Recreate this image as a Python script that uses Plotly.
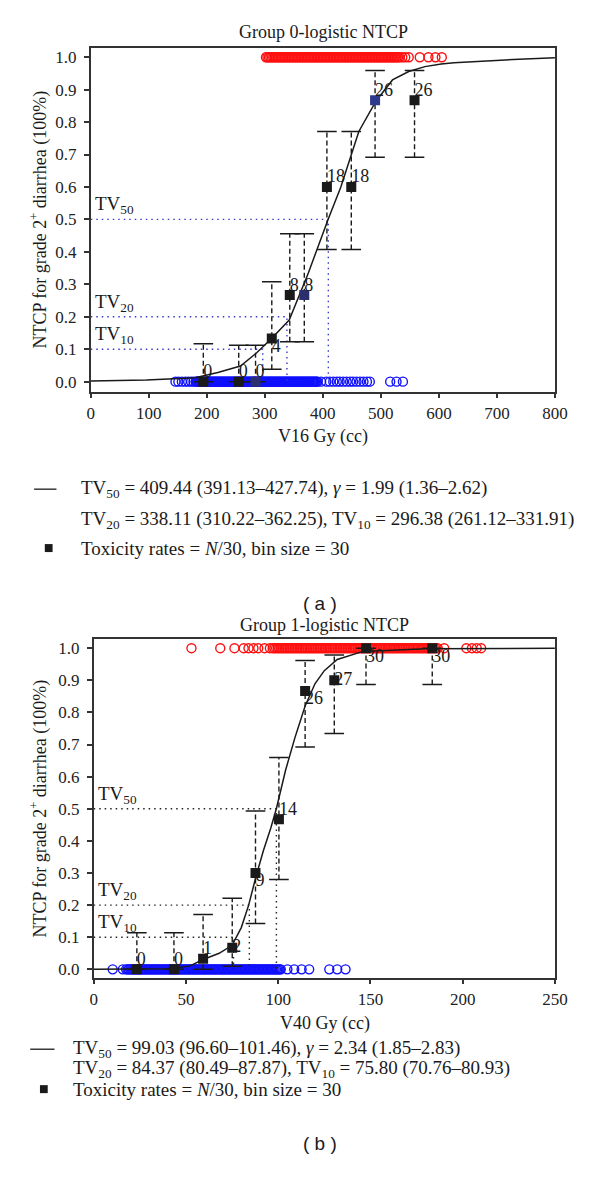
import plotly.graph_objects as go

# ---------------- data: panel (a) Group 0, V16Gy ----------------
bin_x0 = [194, 255, 284, 312, 343, 368, 407, 449, 490, 558]
bin_y0 = [0, 0, 0, 0.133, 0.267, 0.267, 0.600, 0.600, 0.867, 0.867]
bin_lo0 = [0, 0, 0, 0.038, 0.123, 0.123, 0.407, 0.407, 0.692, 0.692]
bin_hi0 = [0.117, 0.112, 0.112, 0.308, 0.456, 0.456, 0.771, 0.771, 0.959, 0.959]
bin_n0 = ["0", "0", "0", "4", "8", "8", "18", "18", "26", "26"]

curve_x0 = [0, 96, 180, 219, 258, 286, 312, 342, 375, 398, 409, 431, 462, 492, 520, 548, 576, 604, 626, 738, 800]
curve_y0 = [0.002, 0.005, 0.012, 0.028, 0.048, 0.089, 0.134, 0.19, 0.335, 0.45, 0.50, 0.60, 0.771, 0.866,
            0.930, 0.956, 0.971, 0.979, 0.983, 0.994, 0.998]

tv_vals0 = [409.44, 338.11, 296.38]
tv_levels = [0.5, 0.2, 0.1]
tv_names = ["50", "20", "10"]

events_x0 = [302, 304.5, 307, 309.5, 312, 314.5, 317, 319.5, 322, 324.5, 327, 329.5, 332, 334.5, 337, 339.5,
             342, 344.5, 347, 349.5, 352, 354.5, 357, 359.5, 362, 364.5, 367, 369.5, 372, 374.5, 377, 379.5,
             382, 384.5, 387, 389.5, 392, 394.5, 397, 399.5, 402, 404.5, 407, 409.5, 412, 414.5, 417, 419.5,
             422, 424.5, 427, 429.5, 432, 434.5, 437, 439.5, 442, 444.5, 447, 449.5, 452, 454.5, 457, 459.5,
             462, 464.5, 467, 469.5, 472, 474.5, 477, 479.5, 482, 484.5, 487, 489.5, 492, 494.5, 497, 499.5,
             502, 504.5, 507, 509.5, 512, 514.5, 517, 519.5, 522, 524.5, 527, 529.5, 532, 537, 542, 548,
             567, 582, 594, 605]
nonevents_x0 = [146, 151, 157, 163, 168, 173, 177,
                181, 182.5, 184, 185.5, 187, 188.5, 190, 191.5, 193, 194.5, 196, 197.5, 199, 200.5, 202, 203.5,
                205, 206.5, 208, 209.5, 211, 212.5, 214, 215.5, 217, 218.5, 220, 221.5, 223, 224.5, 226, 227.5,
                229, 230.5, 232, 233.5, 235, 236.5, 238, 239.5, 241, 242.5, 244, 245.5, 247, 248.5, 250, 251.5,
                253, 254.5, 256, 257.5, 259, 260.5, 262, 263.5, 265, 266.5, 268, 269.5, 271, 272.5, 274, 275.5,
                277, 278.5, 280, 281.5, 283, 284.5, 286, 287.5, 289, 290.5, 292, 293.5, 295, 296.5, 298, 299.5,
                301, 302.5, 304, 305.5, 307, 308.5, 310, 311.5, 313, 314.5, 316, 317.5, 319, 320.5, 322, 323.5,
                325, 326.5, 328, 329.5, 331, 332.5, 334, 335.5, 337, 338.5, 340, 341.5, 343, 344.5, 346, 347.5,
                349, 350.5, 352, 353.5, 355, 356.5, 358, 359.5, 361, 362.5, 364, 365.5, 367, 368.5, 370, 371.5,
                373, 374.5, 376, 377.5, 379, 380.5, 382, 383.5, 385, 386.5, 388, 389.5, 391,
                397, 406, 412, 418, 424, 429, 435, 441, 447, 452, 458, 464, 470, 476, 481, 516, 527, 538]

# ---------------- data: panel (b) Group 1, V40Gy ----------------
bin_x1 = [23.4, 43.5, 59.3, 75.1, 87.7, 100.4, 114.6, 130.4, 147.6, 183.5]
bin_y1 = [0, 0, 0.033, 0.067, 0.300, 0.467, 0.867, 0.900, 1.0, 1.0]
bin_lo1 = [0, 0, 0, 0.01, 0.143, 0.28, 0.692, 0.734, 0.887, 0.887]
bin_hi1 = [0.114, 0.114, 0.171, 0.221, 0.493, 0.66, 0.962, 0.979, 1.0, 1.0]
bin_n1 = ["0", "0", "1", "2", "9", "14", "26", "27", "30", "30"]

curve_x1 = [0, 40, 52, 59, 68, 75, 80, 84, 88, 92, 96, 99, 104, 109, 114.6, 120, 125, 132, 146, 180, 250]
curve_y1 = [0, 0.002, 0.01, 0.03, 0.05, 0.075, 0.13, 0.2, 0.29, 0.37, 0.44, 0.5, 0.62, 0.72, 0.82, 0.89,
            0.93, 0.965, 0.99, 0.998, 1.0]

tv_vals1 = [99.03, 84.37, 75.80]

events_x1 = [53, 68.6, 76.3, 81.3, 83.9, 86.6, 89.2, 92.6, 95.5, 97,
             98, 98.9, 99.8, 100.7, 101.6, 102.5, 103.4, 104.3, 105.2, 106.1, 107, 107.9, 108.8, 109.7,
             110.6, 111.5, 112.4, 113.3, 114.2, 115.1, 116, 116.9, 117.8, 118.7, 119.6, 120.5, 121.4, 122.3,
             123.2, 124.1, 125, 125.9, 126.8, 127.7, 128.6, 129.5, 130.4, 131.3, 132.2, 133.1, 134, 134.9,
             135.8, 136.7, 137.6, 138.5, 139.4, 140.3, 141.2, 142.1, 143, 143.9, 144.8, 145.7, 146.6, 147.5,
             148.4, 149.3, 150.2, 151.1, 152, 152.9, 153.8, 154.7, 155.6, 156.5, 157.4, 158.3, 159.2, 160.1,
             161, 161.9, 162.8, 163.7, 164.6, 165.5, 166.4, 167.3, 168.2, 169.1, 170, 170.9, 171.8, 172.7,
             173.6, 174.5, 175.4, 176.3, 177.2, 178.1, 179, 179.9, 180.8, 181.7, 182.6, 183.5, 184.4, 185.3,
             186.5, 190, 202, 205, 207.6, 210]
nonevents_x1 = [10.3, 15.8,
                17.6, 18.3, 19, 19.7, 20.4, 21.1, 21.8, 22.5, 23.2, 23.9, 24.6, 25.3, 26, 26.7, 27.4, 28.1,
                28.8, 29.5, 30.2, 30.9, 31.6, 32.3, 33, 33.7, 34.4, 35.1, 35.8, 36.5, 37.2, 37.9, 38.6, 39.3,
                40, 40.7, 41.4, 42.1, 42.8, 43.5, 44.2, 44.9, 45.6, 46.3, 47, 47.7, 48.4, 49.1, 49.8, 50.5,
                51.2, 51.9, 52.6, 53.3, 54, 54.7, 55.4, 56.1, 56.8, 57.5, 58.2, 58.9, 59.6, 60.3, 61, 61.7,
                62.4, 63.1, 63.8, 64.5, 65.2, 65.9, 66.6, 67.3, 68, 68.7, 69.4, 70.1, 70.8, 71.5, 72.2, 72.9,
                73.6, 74.3, 75, 75.7, 76.4, 77.1, 77.8, 78.5, 79.2, 79.9, 80.6, 81.3, 82, 82.7, 83.4, 84.1,
                84.8, 85.5, 86.2, 86.9, 87.6, 88.3, 89, 89.7, 90.4, 91.1, 91.8, 92.5, 93.2, 93.9, 94.6, 95.3,
                96, 96.7, 97.4, 98.1, 98.8, 99.5, 100.2, 100.9, 101.4,
                105, 108.7, 112.7, 116.8, 127.7, 132, 136.5]

# ---------------- styling (not data) ----------------
W, H = 600, 1177
FONT = "Liberation Serif"
BLACK = "#1a1a1a"
AXC = "#333333"


def px(xp):
    return xp / W


def py(yp):
    return 1 - yp / H


fig = go.Figure()


def add_panel(xa, ya, ev, nev, cx, cy, tvv, bx, by, blo, bhi, bn, sq_colors, tpos, tvcolor):
    xr, yr = xa, ya
    fig.add_trace(go.Scatter(x=nev, y=[0] * len(nev), mode="markers", xaxis=xr, yaxis=yr,
                             marker=dict(symbol="circle-open", size=9, color="#1010ff", line=dict(width=1.4)),
                             showlegend=False, hoverinfo="skip"))
    fig.add_trace(go.Scatter(x=ev, y=[1] * len(ev), mode="markers", xaxis=xr, yaxis=yr,
                             marker=dict(symbol="circle-open", size=9, color="#ff1010", line=dict(width=1.4)),
                             showlegend=False, hoverinfo="skip"))
    lx, ly = [], []
    for v, lev in zip(tvv, tv_levels):
        lx += [0, v, v, None]
        ly += [lev, lev, 0, None]
    fig.add_trace(go.Scatter(x=lx, y=ly, mode="lines", xaxis=xr, yaxis=yr,
                             line=dict(color=tvcolor, width=1.4, dash="1.5px,4px"),
                             showlegend=False, hoverinfo="skip"))
    fig.add_trace(go.Scatter(x=cx, y=cy, mode="lines", xaxis=xr, yaxis=yr,
                             line=dict(color=BLACK, width=1.5), showlegend=False, hoverinfo="skip"))
    ex, ey = [], []
    for x, lo, hi in zip(bx, blo, bhi):
        ex += [x, x, None]
        ey += [lo, hi, None]
    fig.add_trace(go.Scatter(x=ex, y=ey, mode="lines", xaxis=xr, yaxis=yr,
                             line=dict(color=BLACK, width=1.4, dash="5px,3px"),
                             showlegend=False, hoverinfo="skip"))
    fig.add_trace(go.Scatter(x=bx + bx, y=bhi + blo, mode="markers", xaxis=xr, yaxis=yr,
                             marker=dict(symbol="line-ew", size=14, line=dict(width=1.5, color=BLACK)),
                             showlegend=False, hoverinfo="skip"))
    fig.add_trace(go.Scatter(x=bx, y=by, mode="markers", xaxis=xr, yaxis=yr,
                             marker=dict(symbol="square", size=10, color=sq_colors, line=dict(width=0)),
                             showlegend=False, hoverinfo="skip"))
    fig.add_trace(go.Scatter(x=bx, y=by, mode="text", text=bn, textposition=tpos, xaxis=xr, yaxis=yr,
                             textfont=dict(family=FONT, size=18, color=BLACK),
                             showlegend=False, hoverinfo="skip"))


sq0 = [BLACK, BLACK, "#2b2f6e", BLACK, BLACK, "#2b2f6e", BLACK, BLACK, "#2d3a8c", BLACK]
tp0 = ["top right"] * 3 + ["bottom right"] + ["top right"] * 6
add_panel("x", "y", events_x0, nonevents_x0, curve_x0, curve_y0, tv_vals0, bin_x0, bin_y0, bin_lo0, bin_hi0,
          bin_n0, sq0, tp0, "#3a3ac8")

sq1 = [BLACK] * 10
tp1 = ["top right", "top right", "top right", "middle right", "bottom right", "top right", "bottom right",
       "middle right", "bottom right", "bottom right"]
add_panel("x2", "y2", events_x1, nonevents_x1, curve_x1, curve_y1, tv_vals1, bin_x1, bin_y1, bin_lo1, bin_hi1,
          bin_n1, sq1, tp1, "#222222")

axis_common = dict(showgrid=False, zeroline=False, showline=True, mirror=True, linecolor=AXC, linewidth=1.5,
                   ticks="outside", ticklen=5, tickwidth=1.5, tickcolor=AXC,
                   tickfont=dict(family=FONT, size=17, color="#222222"))

fig.update_layout(
    width=W, height=H, margin=dict(l=0, r=0, t=0, b=0),
    paper_bgcolor="white", plot_bgcolor="white", showlegend=False,
    xaxis=dict(domain=[px(89.3), px(567)], range=[0, 800], dtick=100, anchor="y", **axis_common),
    yaxis=dict(domain=[py(392.3), py(48.3)], range=[-0.0308, 1.0277], tickvals=[i / 10 for i in range(11)],
               tickformat=".1f", anchor="x", ticklabelstandoff=4, **axis_common),
    xaxis2=dict(domain=[px(92.3), px(567)], range=[0, 250], dtick=50, anchor="y2", **axis_common),
    yaxis2=dict(domain=[py(979.3), py(640)], range=[-0.0258, 1.0289], tickvals=[i / 10 for i in range(11)],
                tickformat=".1f", anchor="x2", ticklabelstandoff=4, **axis_common),
)

ann = []


def text(x, y, s, size=17, xanchor="center", angle=0, family=FONT):
    ann.append(dict(x=px(x), y=py(y), xref="paper", yref="paper", text=s, showarrow=False,
                    xanchor=xanchor, yanchor="middle", textangle=angle,
                    font=dict(family=family, size=size, color=BLACK)))


text(329, 32, "Group 0-logistic NTCP", 18)
text(330, 626, "Group 1-logistic NTCP", 18)
text(328, 437, "V16 Gy (cc)", 18)
text(330, 1025, "V40 Gy (cc)", 18)
text(36, 220, "NTCP for grade 2<sup>+</sup> diarrhea (100%)", 18, angle=-90)
text(36, 810, "NTCP for grade 2<sup>+</sup> diarrhea (100%)", 18, angle=-90)

for lev, name in zip(tv_levels, tv_names):
    ann.append(dict(x=4, y=lev, xref="x", yref="y", text="TV<sub>%s</sub>" % name, showarrow=False,
                    xanchor="left", yanchor="bottom", font=dict(family=FONT, size=19, color=BLACK)))
    ann.append(dict(x=1.5, y=lev, xref="x2", yref="y2", text="TV<sub>%s</sub>" % name, showarrow=False,
                    xanchor="left", yanchor="bottom", font=dict(family=FONT, size=19, color=BLACK)))

text(77, 490, "TV<sub>50</sub> = 409.44 (391.13–427.74), <i>γ</i> = 1.99 (1.36–2.62)", 19, "left")
text(77, 521, "TV<sub>20</sub> = 338.11 (310.22–362.25), TV<sub>10</sub> = 296.38 (261.12–331.91)", 19, "left")
text(77, 549, "Toxicity rates = <i>N</i>/30, bin size = 30", 19, "left")
text(325, 605, "( a )", 19, family="Liberation Sans")

text(69, 1051, "TV<sub>50</sub> = 99.03 (96.60–101.46), <i>γ</i> = 2.34 (1.85–2.83)", 19, "left")
text(69, 1071, "TV<sub>20</sub> = 84.37 (80.49–87.87), TV<sub>10</sub> = 75.80 (70.76–80.93)", 19, "left")
text(69, 1091, "Toxicity rates = <i>N</i>/30, bin size = 30", 19, "left")
text(325, 1145, "( b )", 19, family="Liberation Sans")

fig.update_layout(annotations=ann)

shapes = [
    dict(type="line", xref="paper", yref="paper", x0=px(31), x1=px(54), y0=py(490), y1=py(490),
         line=dict(color=BLACK, width=1.3)),
    dict(type="rect", xref="paper", yref="paper", x0=px(42), x1=px(50), y0=py(553), y1=py(545),
         fillcolor=BLACK, line=dict(width=0)),
    dict(type="line", xref="paper", yref="paper", x0=px(27), x1=px(52), y0=py(1051), y1=py(1051),
         line=dict(color=BLACK, width=1.3)),
    dict(type="rect", xref="paper", yref="paper", x0=px(37), x1=px(45), y0=py(1095), y1=py(1087),
         fillcolor=BLACK, line=dict(width=0)),
]
fig.update_layout(shapes=shapes)

fig.write_html("out.html", config={"displayModeBar": False},
               post_script="document.body.style.margin='0';document.body.style.overflow='hidden';")
